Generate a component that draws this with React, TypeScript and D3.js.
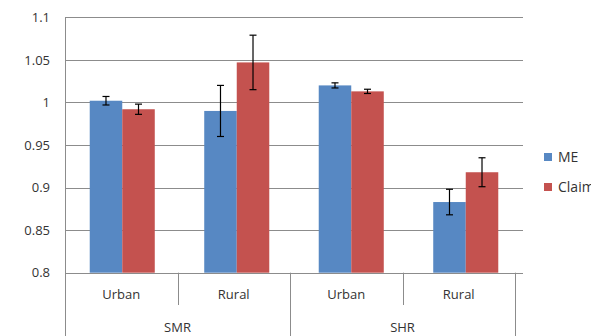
import React, { useRef, useEffect } from 'react';
import * as d3 from 'd3';

const groups = ['SMR', 'SHR'];
const subCategories = ['Urban', 'Rural'];
const seriesNames = ['ME', 'Claim'];
const meValues = [1.002, 0.99, 1.02, 0.883];
const meErrors = [0.005, 0.03, 0.003, 0.015];
const claimValues = [0.992, 1.047, 1.013, 0.918];
const claimErrors = [0.006, 0.032, 0.0025, 0.017];
const yTicks = [0.8, 0.85, 0.9, 0.95, 1, 1.05, 1.1];

const colors = ['#5788C3', '#C4524F'];

const App: React.FC = () => {
  const svgRef = useRef<SVGSVGElement>(null);

  useEffect(() => {
    if (!svgRef.current) return;
    const width = 591;
    const height = 336;
    const left = 65;
    const right = 523;
    const top = 17.3;
    const bottom = 272.7;
    const font = "'Open Sans', 'Noto Sans', sans-serif";
    const gridColor = '#8c8c8c';
    const textColor = '#333333';

    const svg = d3.select(svgRef.current);
    svg.selectAll('*').remove();

    const cats = groups.flatMap(g => subCategories.map(s => `${g}-${s}`));

    const x = d3.scaleBand<string>().domain(cats).range([left, right]);
    const axisX = d3.scaleBand<string>().domain(cats).range([left, 515]);
    const y = d3.scaleLinear().domain([0.8, 1.1]).range([bottom, top]);

    // gridlines
    svg.append('g')
      .selectAll('line')
      .data(yTicks)
      .enter()
      .append('line')
      .attr('x1', left)
      .attr('x2', right)
      .attr('y1', d => Math.round(y(d)) + 0.5)
      .attr('y2', d => Math.round(y(d)) + 0.5)
      .style('stroke', gridColor)
      .style('stroke-width', 1);

    // y labels
    svg.append('g')
      .selectAll('text')
      .data(yTicks)
      .enter()
      .append('text')
      .attr('x', 50)
      .attr('y', d => y(d))
      .attr('dy', '0.36em')
      .attr('text-anchor', 'end')
      .style('font-family', font)
      .style('font-size', '13px')
      .style('fill', textColor)
      .text(d => String(d));

    // bars + error bars
    const bandW = x.bandwidth();
    const barW = bandW * 0.284;
    const series = [meValues, claimValues];
    const errors = [meErrors, claimErrors];
    series.forEach((vals, si) => {
      const bx = (i: number) => x(cats[i])! + bandW / 2 - barW + si * barW;
      svg.append('g')
        .selectAll('rect')
        .data(vals)
        .enter()
        .append('rect')
        .attr('x', (d, i) => bx(i))
        .attr('y', d => y(d))
        .attr('width', barW)
        .attr('height', d => y(0.8) - y(d))
        .style('fill', colors[si]);

      const eb = svg.append('g');
      vals.forEach((v, i) => {
        const cx = bx(i) + barW / 2;
        const e = errors[si][i];
        eb.append('line')
          .attr('x1', cx).attr('x2', cx)
          .attr('y1', y(v + e)).attr('y2', y(v - e))
          .style('stroke', '#000').style('stroke-width', 1.2);
        [v + e, v - e].forEach(t => {
          eb.append('line')
            .attr('x1', cx - 3.5).attr('x2', cx + 3.5)
            .attr('y1', y(t)).attr('y2', y(t))
            .style('stroke', '#000').style('stroke-width', 1.2);
        });
      });
    });

    // y axis line
    svg.append('line')
      .attr('x1', left + 0.5).attr('x2', left + 0.5)
      .attr('y1', top).attr('y2', height)
      .style('stroke', gridColor);

    // category divisions + labels
    cats.forEach((c, i) => {
      const xe = Math.round(axisX(c)! + axisX.bandwidth()) + 0.5;
      const isGroupEnd = i % subCategories.length === subCategories.length - 1;
      svg.append('line')
        .attr('x1', xe).attr('x2', xe)
        .attr('y1', bottom).attr('y2', isGroupEnd ? height : 305)
        .style('stroke', gridColor);
      svg.append('text')
        .attr('x', axisX(c)! + axisX.bandwidth() / 2)
        .attr('y', 294.5)
        .attr('dy', '0.36em')
        .attr('text-anchor', 'middle')
        .style('font-family', font)
        .style('font-size', '13px')
        .style('fill', textColor)
        .text(subCategories[i % subCategories.length]);
    });

    groups.forEach(g => {
      const first = axisX(`${g}-${subCategories[0]}`)!;
      const last = axisX(`${g}-${subCategories[subCategories.length - 1]}`)! + axisX.bandwidth();
      svg.append('text')
        .attr('x', (first + last) / 2)
        .attr('y', 327)
        .attr('dy', '0.36em')
        .attr('text-anchor', 'middle')
        .style('font-family', font)
        .style('font-size', '13px')
        .style('fill', textColor)
        .text(g);
    });

    // legend
    const legend = svg.append('g');
    seriesNames.forEach((name, i) => {
      const ly = 157 + i * 30;
      legend.append('rect')
        .attr('x', 544)
        .attr('y', ly - 4)
        .attr('width', 8)
        .attr('height', 8)
        .style('fill', colors[i]);
      legend.append('text')
        .attr('x', 558)
        .attr('y', ly)
        .attr('dy', '0.36em')
        .style('font-family', font)
        .style('font-size', '14px')
        .style('fill', textColor)
        .text(name);
    });

    svg.attr('width', width).attr('height', height);
  }, []);

  return (
    <svg
      ref={svgRef}
      width={591}
      height={336}
      style={{ position: 'absolute', left: 0, top: 0, background: '#fff' }}
    />
  );
};

export default App;
